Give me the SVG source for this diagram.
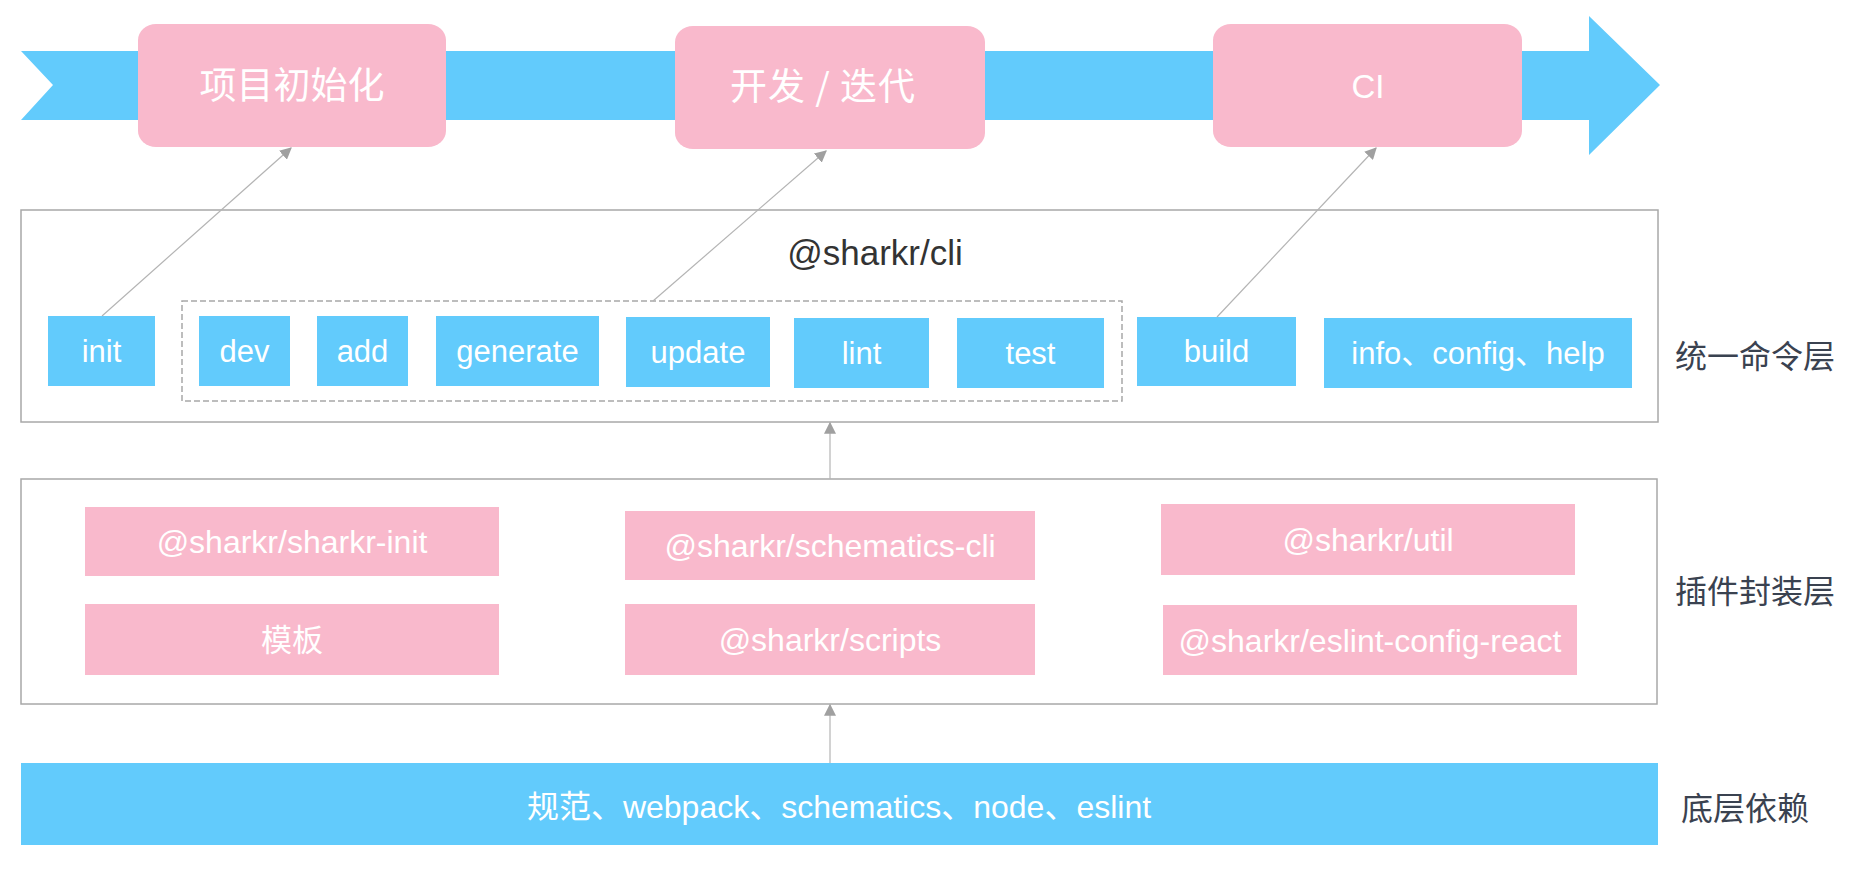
<svg xmlns="http://www.w3.org/2000/svg" width="1850" height="882" viewBox="0 0 1850 882">
<style>
.blue{fill:#62cbfc}
.pink{fill:#f9b9cc}
.layer{fill:#fff;stroke:#a8a8a8;stroke-width:1.5}
.wt{fill:#fff;font-family:"Liberation Sans",Arial,"Noto Sans CJK SC",sans-serif;text-anchor:middle}
.cjk{fill:#fff;font-family:"Noto Sans CJK SC",sans-serif;text-anchor:middle}
.cmd{font-size:31px}
.pkg{font-size:32px}
.lab{fill:#3a4250;font-family:"Noto Sans CJK SC",sans-serif;font-size:32px}
.conn{stroke:#b4b4b4;stroke-width:1.2;fill:none}
</style>
<defs>
<marker id="ah" viewBox="0 0 10 10" refX="9" refY="5" markerWidth="12" markerHeight="12" markerUnits="userSpaceOnUse" orient="auto">
<path d="M0,0 L10,5 L0,10 Z" fill="#a0a0a0"/>
</marker>
</defs>
<rect width="1850" height="882" fill="#fff"/>

<g id="timeline">
<polygon class="blue" points="21,51 1589,51 1589,16 1660,85 1589,155 1589,120 21,120 53,85"/>
</g>
<g id="stage-init">
<rect class="pink" x="138" y="24" width="308" height="123" rx="18" ry="16"/>
<text class="cjk" x="292" y="99" font-size="37">项目初始化</text>
</g>
<g id="stage-dev">
<rect class="pink" x="675" y="26" width="310" height="123" rx="18" ry="16"/>
<text class="cjk" x="823" y="100" font-size="37" letter-spacing="1">开发 / 迭代</text>
</g>
<g id="stage-ci">
<rect class="pink" x="1213" y="24" width="309" height="123" rx="18" ry="16"/>
<text class="wt" x="1368" y="98" font-size="33">CI</text>
</g>

<g id="layer-cli">
<rect class="layer" x="21" y="210" width="1637" height="212"/>
<text x="875" y="265" font-size="35" fill="#333" font-family="Liberation Sans,Arial,sans-serif" text-anchor="middle">@sharkr/cli</text>
<rect x="182" y="301" width="940" height="100" fill="none" stroke="#a8a8a8" stroke-width="1.5" stroke-dasharray="6 3"/>
</g>
<g id="cmd-init"><rect class="blue" x="48" y="316" width="107" height="70"/><text class="wt cmd" x="101.5" y="362">init</text></g>
<g id="cmd-dev"><rect class="blue" x="199" y="316" width="91" height="70"/><text class="wt cmd" x="244.5" y="362">dev</text></g>
<g id="cmd-add"><rect class="blue" x="317" y="316" width="91" height="70"/><text class="wt cmd" x="362.5" y="362">add</text></g>
<g id="cmd-generate"><rect class="blue" x="436" y="316" width="163" height="70"/><text class="wt cmd" x="517.5" y="362">generate</text></g>
<g id="cmd-update"><rect class="blue" x="626" y="317" width="144" height="70"/><text class="wt cmd" x="698" y="363">update</text></g>
<g id="cmd-lint"><rect class="blue" x="794" y="318" width="135" height="70"/><text class="wt cmd" x="861.5" y="364">lint</text></g>
<g id="cmd-test"><rect class="blue" x="957" y="318" width="147" height="70"/><text class="wt cmd" x="1030.5" y="364">test</text></g>
<g id="cmd-build"><rect class="blue" x="1137" y="317" width="159" height="69"/><text class="wt cmd" x="1216.5" y="362">build</text></g>
<g id="cmd-info"><rect class="blue" x="1324" y="318" width="308" height="70"/><text class="wt cmd" x="1478" y="364">info、config、help</text></g>
<g id="label-cli"><text class="lab" x="1675" y="368">统一命令层</text></g>

<g id="layer-plugin">
<rect class="layer" x="21" y="479" width="1636" height="225"/>
</g>
<g id="pkg-init"><rect class="pink" x="85" y="507" width="414" height="69"/><text class="wt pkg" x="292" y="553">@sharkr/sharkr-init</text></g>
<g id="pkg-template"><rect class="pink" x="85" y="604" width="414" height="71"/><text class="cjk" x="292" y="651" font-size="31">模板</text></g>
<g id="pkg-schematics"><rect class="pink" x="625" y="511" width="410" height="69"/><text class="wt pkg" x="830" y="557">@sharkr/schematics-cli</text></g>
<g id="pkg-scripts"><rect class="pink" x="625" y="604" width="410" height="71"/><text class="wt pkg" x="830" y="651">@sharkr/scripts</text></g>
<g id="pkg-util"><rect class="pink" x="1161" y="504" width="414" height="71"/><text class="wt pkg" x="1368" y="551">@sharkr/util</text></g>
<g id="pkg-eslint"><rect class="pink" x="1163" y="605" width="414" height="70"/><text class="wt pkg" x="1370" y="652">@sharkr/eslint-config-react</text></g>
<g id="label-plugin"><text class="lab" x="1675" y="603">插件封装层</text></g>

<g id="layer-base">
<rect class="blue" x="21" y="763" width="1637" height="82"/>
<text class="wt" x="839" y="818" font-size="32">规范、webpack、schematics、node、eslint</text>
</g>
<g id="label-base"><text class="lab" x="1681" y="820">底层依赖</text></g>

<g id="connectors">
<line class="conn" x1="102" y1="316" x2="291" y2="148" marker-end="url(#ah)"/>
<line class="conn" x1="653" y1="301" x2="826" y2="151" marker-end="url(#ah)"/>
<line class="conn" x1="1217" y1="317" x2="1376" y2="148" marker-end="url(#ah)"/>
<line class="conn" x1="830" y1="479" x2="830" y2="423" marker-end="url(#ah)"/>
<line class="conn" x1="830" y1="763" x2="830" y2="705" marker-end="url(#ah)"/>
</g>
</svg>
